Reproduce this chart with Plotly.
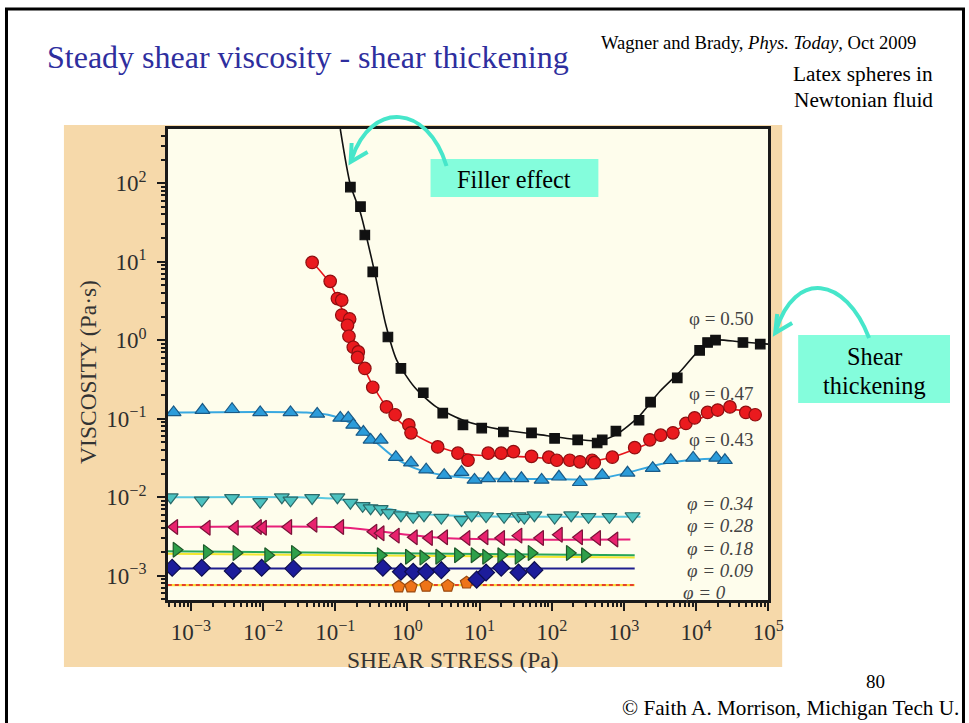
import numpy as np
import plotly.graph_objects as go

W, H = 969, 723
EFF_W = 954.0  # horizontal extent the page actually shows the figure at

# ---------------- DATA (log10 of shear stress [Pa], log10 of viscosity [Pa s]) ----------------
phi050_x = [-0.79, -0.65, -0.59, -0.48, -0.27, -0.09, 0.22, 0.49, 0.77, 1.03, 1.33, 1.72, 2.04,
            2.36, 2.63, 2.70, 2.89, 3.21, 3.37, 3.74, 4.05, 4.16, 4.27, 4.65, 4.89]
phi050_y = [1.95, 1.70, 1.34, 0.87, 0.04, -0.36, -0.67, -0.93, -1.08, -1.12, -1.17, -1.18, -1.25,
            -1.27, -1.31, -1.27, -1.16, -1.02, -0.79, -0.48, -0.13, -0.03, 0.00, -0.03, -0.05]
fit050_x = [-0.93, -0.79, -0.65, -0.55, -0.45, -0.30, -0.15, 0.10, 0.40, 0.80, 1.30, 1.80, 2.30,
            2.65, 2.90, 3.20, 3.50, 3.80, 4.05, 4.25, 4.60, 5.00]
fit050_y = [2.69, 1.98, 1.62, 1.25, 0.85, 0.20, -0.25, -0.60, -0.85, -1.03, -1.14, -1.20, -1.26,
            -1.28, -1.20, -0.98, -0.65, -0.38, -0.12, 0.00, -0.02, -0.05]

phi047_x = [-1.32, -1.07, -0.97, -0.91, -0.91, -0.80, -0.83, -0.81, -0.75, -0.68, -0.69, -0.59,
            -0.48, -0.29, -0.17, 0.02, 0.05, 0.42, 0.70, 0.84, 1.12, 1.30, 1.47, 1.72, 1.96, 2.07,
            2.25, 2.39, 2.56, 2.59, 2.84, 3.15, 3.36, 3.51, 3.68, 3.86, 3.98, 4.16, 4.30, 4.47,
            4.69, 4.82]
phi047_y = [0.99, 0.75, 0.53, 0.51, 0.32, 0.27, 0.19, 0.05, -0.09, -0.15, -0.22, -0.36, -0.60,
            -0.85, -0.95, -1.08, -1.18, -1.36, -1.44, -1.53, -1.44, -1.44, -1.42, -1.48, -1.49,
            -1.53, -1.53, -1.55, -1.53, -1.56, -1.49, -1.37, -1.27, -1.21, -1.18, -1.06, -0.99,
            -0.92, -0.89, -0.85, -0.92, -0.95]
fit047_x = [-1.32, -1.07, -0.90, -0.75, -0.60, -0.40, -0.20, 0.10, 0.50, 0.90, 1.50, 2.00, 2.50,
            2.80, 3.20, 3.60, 4.00, 4.40, 4.85]
fit047_y = [1.00, 0.72, 0.38, 0.02, -0.36, -0.70, -0.95, -1.20, -1.38, -1.46, -1.48, -1.51, -1.54,
            -1.50, -1.37, -1.20, -1.02, -0.88, -0.93]

phi043_x = [-3.24, -2.84, -2.43, -2.04, -1.62, -1.25, -0.93, -0.82, -0.75, -0.61, -0.51, -0.37,
            -0.16, 0.05, 0.26, 0.51, 0.75, 0.93, 1.12, 1.35, 1.58, 1.86, 2.10, 2.39, 2.70, 3.05,
            3.40, 3.65, 3.96, 4.28, 4.40]
phi043_y = [-0.92, -0.89, -0.88, -0.92, -0.92, -0.94, -0.99, -0.99, -1.08, -1.17, -1.27, -1.27,
            -1.49, -1.56, -1.65, -1.72, -1.68, -1.78, -1.76, -1.76, -1.76, -1.78, -1.74, -1.81,
            -1.72, -1.69, -1.63, -1.53, -1.50, -1.50, -1.53]
fit043_x = [-3.32, -1.40, -1.10, -0.80, -0.50, -0.20, 0.10, 0.50, 1.00, 2.00, 2.60, 3.00, 3.50,
            4.00, 4.45]
fit043_y = [-0.92, -0.92, -0.95, -1.05, -1.25, -1.48, -1.63, -1.72, -1.76, -1.77, -1.77, -1.70,
            -1.58, -1.52, -1.50]

phi034_x = [-3.28, -2.85, -2.43, -2.04, -1.74, -1.62, -1.32, -0.97, -0.79, -0.62, -0.51, -0.37,
            -0.26, -0.09, 0.08, 0.23, 0.47, 0.75, 0.89, 1.09, 1.34, 1.54, 1.62, 1.76, 2.04, 2.27,
            2.51, 2.80, 3.12]
phi034_y = [-2.00, -2.04, -2.01, -2.06, -2.00, -2.04, -2.01, -2.00, -2.07, -2.11, -2.14, -2.15,
            -2.20, -2.23, -2.25, -2.23, -2.26, -2.29, -2.23, -2.24, -2.25, -2.24, -2.26, -2.23,
            -2.26, -2.23, -2.25, -2.25, -2.24]
fit034_x = [-3.32, -1.50, -1.00, -0.50, 0.00, 0.50, 1.50, 3.23]
fit034_y = [-2.00, -2.00, -2.02, -2.10, -2.20, -2.23, -2.25, -2.25]

phi028_x = [-3.23, -2.78, -2.39, -2.07, -2.00, -1.65, -1.30, -0.93, -0.47, -0.37, -0.16, 0.09,
            0.30, 0.51, 0.82, 1.07, 1.30, 1.54, 1.84, 2.10, 2.38, 2.63, 2.87]
phi028_y = [-2.38, -2.39, -2.39, -2.38, -2.39, -2.38, -2.35, -2.38, -2.44, -2.46, -2.49, -2.51,
            -2.52, -2.51, -2.52, -2.51, -2.52, -2.49, -2.52, -2.48, -2.51, -2.52, -2.54]
fit028_x = [-3.32, -1.00, -0.50, 0.00, 0.50, 1.50, 3.09]
fit028_y = [-2.38, -2.38, -2.42, -2.48, -2.52, -2.54, -2.54]

phi018_x = [-3.20, -2.78, -2.37, -1.93, -1.56, -0.37, 0.02, 0.22, 0.44, 0.70, 0.93, 1.09, 1.30,
            1.54, 1.72, 2.25, 2.46]
phi018_y = [-2.67, -2.70, -2.71, -2.74, -2.71, -2.74, -2.76, -2.77, -2.76, -2.74, -2.74, -2.76,
            -2.74, -2.76, -2.71, -2.71, -2.74]
fit018_x = [-3.32, 0.00, 3.15]
fit018_y = [-2.69, -2.72, -2.74]
fit018b_y = [-2.72, -2.75, -2.77]

phi009_x = [-3.26, -2.85, -2.42, -2.02, -1.58, -0.34, -0.09, 0.08, 0.26, 0.47, 0.96, 1.09, 1.30,
            1.54, 1.76]
phi009_y = [-2.90, -2.90, -2.94, -2.90, -2.91, -2.90, -2.95, -2.95, -2.95, -2.93, -3.05, -2.96,
            -2.90, -2.96, -2.93]
fit009_x = [-3.32, 3.15]
fit009_y = [-2.91, -2.91]

phi000_x = [-0.12, 0.05, 0.26, 0.56, 0.82]
phi000_y = [-3.14, -3.14, -3.13, -3.13, -3.09]
fit000_x = [-3.32, 3.15]
fit000_y = [-3.12, -3.12]

x_tick_exp = [-3, -2, -1, 0, 1, 2, 3, 4, 5]
y_tick_exp = [-3, -2, -1, 0, 1, 2]

# ---------------- helpers ----------------
SERIF = "Liberation Serif, Times New Roman, serif"


def PX(x):
    return x / EFF_W


def PY(y):
    return 1 - y / H


fig = go.Figure()


def add_fit(lx, ly, color, width, dash="solid", shape="spline"):
    fig.add_trace(go.Scatter(
        x=10 ** np.array(lx, dtype=float), y=10 ** np.array(ly, dtype=float), mode="lines",
        line=dict(color=color, width=width, dash=dash, shape=shape, smoothing=0.7),
        hoverinfo="skip", showlegend=False))


def add_pts(lx, ly, symbol, fill, outline, size, lw=1.2):
    fig.add_trace(go.Scatter(
        x=10 ** np.array(lx, dtype=float), y=10 ** np.array(ly, dtype=float), mode="markers",
        marker=dict(symbol=symbol, color=fill, size=size, line=dict(color=outline, width=lw)),
        hoverinfo="skip", showlegend=False))


# lines (fits)
add_fit(fit000_x, fit000_y, "#F5E03A", 2.2, shape="linear")
add_fit(fit000_x, fit000_y, "#E8402A", 2, dash="4px,3px", shape="linear")
add_fit(fit009_x, fit009_y, "#1E1E8E", 2, shape="linear")
add_fit(fit018_x, fit018b_y, "#F2E62E", 2, shape="linear")
add_fit(fit018_x, fit018_y, "#27A65A", 2, shape="linear")
add_fit(fit028_x, fit028_y, "#E8207A", 2)
add_fit(fit034_x, fit034_y, "#5CCAE0", 2)
add_fit(fit043_x, fit043_y, "#38A8E0", 2)
add_fit(fit047_x, fit047_y, "#E8141B", 1.6)
add_fit(fit050_x, fit050_y, "#111111", 1.6)

# markers
add_pts(phi000_x, phi000_y, "pentagon", "#EE7418", "#9A4A10", 13)
add_pts(phi009_x, phi009_y, "diamond", "#1C1C9A", "#0E0E50", 13)
add_pts(phi018_x, phi018_y, "triangle-right", "#2EA04A", "#1E5A2A", 13)
add_pts(phi028_x, phi028_y, "triangle-left", "#E8226E", "#7A1238", 13)
add_pts(phi034_x, phi034_y, "triangle-down", "#4CC2C0", "#2A6A6A", 13)
add_pts(phi043_x, phi043_y, "triangle-up", "#2C9CDA", "#1A5A86", 13)
add_pts(phi047_x, phi047_y, "circle", "#EA1A1E", "#8E0E10", 12.5)
add_pts(phi050_x, phi050_y, "square", "#111111", "#111111", 9.5)


def sup_label(e):
    s = str(e).replace("-", "\u2212")
    return f"10<sup>{s}</sup>"


def minor_vals(lo, hi):
    vals = []
    for d in range(lo, hi + 1):
        for k in range(2, 10):
            vals.append(k * 10.0 ** d)
    return vals


axis_common = dict(
    type="log", showgrid=False, zeroline=False, showline=True, linecolor="#1a1a1a",
    linewidth=2.5, mirror=True, ticks="outside", ticklen=8, tickwidth=2, tickcolor="#1a1a1a",
    tickfont=dict(family=SERIF, size=23, color="#2e2e2e"),
)

fig.update_xaxes(
    **axis_common,
    range=[-3.32, 5.0], domain=[PX(168), PX(769)],
    tickmode="array", tickvals=[10.0 ** e for e in x_tick_exp],
    ticktext=[sup_label(e) for e in x_tick_exp],
    minor=dict(tickmode="array", tickvals=minor_vals(-4, 4), ticks="outside", ticklen=4,
               tickwidth=1.5, tickcolor="#1a1a1a", showgrid=False),
    ticklabelstandoff=2,
)
fig.update_yaxes(
    **axis_common,
    range=[-3.31, 2.69], domain=[PY(600), PY(129)],
    tickmode="array", tickvals=[10.0 ** e for e in y_tick_exp],
    ticktext=[sup_label(e) for e in y_tick_exp],
    minor=dict(tickmode="array", tickvals=minor_vals(-4, 2), ticks="outside", ticklen=4,
               tickwidth=1.5, tickcolor="#1a1a1a", showgrid=False),
    ticklabelstandoff=6,
)

shapes = []
# scanned paper background
shapes.append(dict(type="rect", xref="paper", yref="paper", x0=PX(64), x1=PX(783), y0=PY(667),
                   y1=PY(125), fillcolor="#F6D9AA", line=dict(width=0), layer="below"))
# light paper inside the frame of the graph
shapes.append(dict(type="rect", xref="paper", yref="paper", x0=PX(168), x1=PX(769), y0=PY(600),
                   y1=PY(129), fillcolor="#FEFDEC", line=dict(width=0), layer="below"))
# slide border
shapes.append(dict(type="rect", xref="paper", yref="paper", x0=PX(6.5), x1=PX(964.5), y0=PY(730),
                   y1=PY(9), fillcolor="rgba(0,0,0,0)", line=dict(color="#000000", width=3),
                   layer="above"))
# annotation boxes
shapes.append(dict(type="rect", xref="paper", yref="paper", x0=PX(431), x1=PX(599), y0=PY(197),
                   y1=PY(159), fillcolor="#84FDDC", line=dict(width=0), layer="above"))
shapes.append(dict(type="rect", xref="paper", yref="paper", x0=PX(799), x1=PX(951), y0=PY(403),
                   y1=PY(335), fillcolor="#84FDDC", line=dict(width=0), layer="above"))


def ppath(cmds):
    out = []
    for c in cmds:
        if isinstance(c, str):
            out.append(c)
        else:
            out.append(f"{PX(c[0]):.5f},{PY(c[1]):.5f}")
    return " ".join(out)


ARROW = "#46E6CA"
# filler effect arrow
shapes.append(dict(type="path", xref="paper", yref="paper",
                   path=ppath(["M", (447, 166), "C", (428, 104), (372, 100), (352, 159)]),
                   line=dict(color=ARROW, width=4), layer="above"))
shapes.append(dict(type="path", xref="paper", yref="paper",
                   path=ppath(["M", (352, 143), "L", (351, 162), "L", (368, 152)]),
                   line=dict(color=ARROW, width=4), layer="above"))
# shear thickening arrow
shapes.append(dict(type="path", xref="paper", yref="paper",
                   path=ppath(["M", (870, 338), "C", (846, 276), (796, 270), (777, 330)]),
                   line=dict(color=ARROW, width=4), layer="above"))
shapes.append(dict(type="path", xref="paper", yref="paper",
                   path=ppath(["M", (778, 314), "L", (776, 333), "L", (793, 323)]),
                   line=dict(color=ARROW, width=4), layer="above"))

annotations = []


def txt(x, y, s, size, color="#000000", xanchor="center", yanchor="middle", angle=0, **kw):
    annotations.append(dict(x=PX(x), y=PY(y), xref="paper", yref="paper", text=s,
                            showarrow=False, xanchor=xanchor, yanchor=yanchor, textangle=angle,
                            font=dict(family=SERIF, size=size, color=color), **kw))


txt(45, 57, "Steady shear viscosity - shear thickening", 32, "#2E2E9E", xanchor="left")
txt(600, 42, "Wagner and Brady, <i>Phys. Today</i>, Oct 2009", 18.6, xanchor="left")
txt(936, 74, "Latex spheres in", 21.3, xanchor="right")
txt(936, 100, "Newtonian fluid", 21.3, xanchor="right")
txt(876, 681, "80", 19)
txt(962, 708, "\u00a9 Faith A. Morrison, Michigan Tech U.", 21.2, xanchor="right")
txt(515, 179, "Filler effect", 24.3)
txt(875, 356, "Shear", 24.3)
txt(875, 385, "thickening", 24.3)

txt(88, 372, "VISCOSITY (Pa\u00b7s)", 23.5, "#333333", angle=-90)
txt(453, 660, "SHEAR STRESS (Pa)", 23.5, "#333333")

PHI = "#444444"
txt(722, 318, "\u03c6 = 0.50", 19, PHI)
txt(722, 394, "\u03c6 = 0.47", 19, PHI)
txt(722, 440, "\u03c6 = 0.43", 19, PHI)
txt(721, 503, "<i>\u03c6 = 0.34</i>", 19, PHI)
txt(721, 525, "<i>\u03c6 = 0.28</i>", 19, PHI)
txt(721, 548, "<i>\u03c6 = 0.18</i>", 19, PHI)
txt(721, 570, "<i>\u03c6 = 0.09</i>", 19, PHI)
txt(705, 592, "<i>\u03c6 = 0</i>", 19, PHI)

fig.update_layout(
    width=W, height=H, autosize=False,
    margin=dict(l=0, r=0, t=0, b=0, pad=0),
    paper_bgcolor="#FFFFFF", plot_bgcolor="#FEFDEC",
    showlegend=False, shapes=shapes, annotations=annotations,
)

fig.write_html("out.html", config={"responsive": False})
